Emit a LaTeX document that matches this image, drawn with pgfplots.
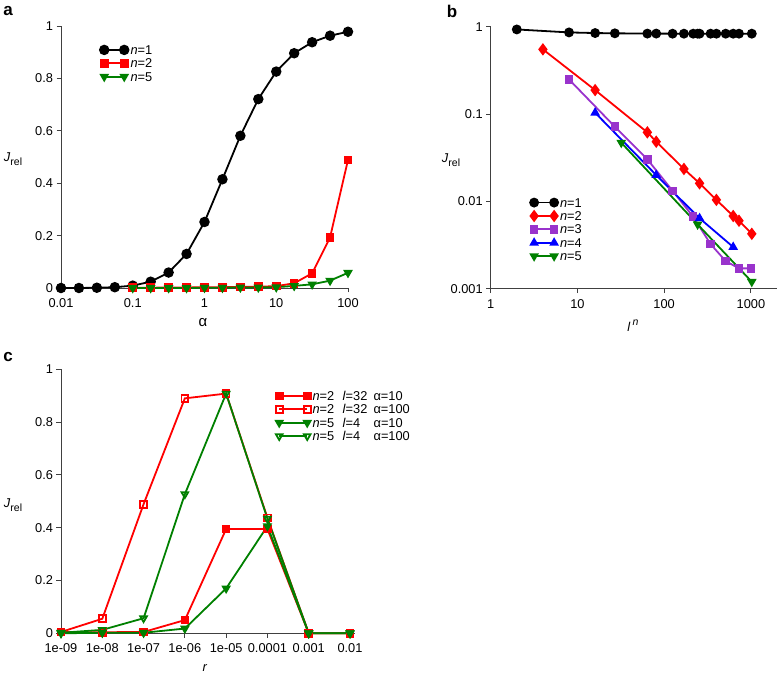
\documentclass[border=0pt]{standalone}
\usepackage{fontspec}
\setmainfont{Liberation Sans}
\usepackage{pgfplots}
\pgfplotsset{compat=1.18}

\definecolor{cgreen}{RGB}{0,128,0}
\definecolor{cpurple}{RGB}{153,51,204}
\definecolor{cblue}{RGB}{0,0,255}
\definecolor{cred}{RGB}{255,0,0}

\newcommand{\fs}{\fontsize{12.8bp}{14bp}\selectfont}
\newcommand{\Jrel}{\textit{J}\raisebox{-0.55ex}{\fontsize{10.5bp}{11bp}\selectfont rel}}

\pgfplotsset{
  panel/.style={
    scale only axis, clip=false,
    axis lines=left, axis line style={-, black!75, line width=0.9bp},
    tick align=outside, xtick pos=left, ytick pos=left,
    major tick length=4.5bp, tick style={black!75, line width=0.9bp},
    minor tick style={draw=none},
    ticklabel style={font=\fs},
    xticklabel style={yshift=-2.5bp},
    /pgf/number format/assume math mode=true,
    legend cell align=left,
    legend style={draw=none, fill=none, font=\fs, inner sep=0pt,
      nodes={text height=9bp, text depth=0bp, inner ysep=2.2bp}},
    every axis plot/.append style={line width=1.8bp},
  },
  twomark/.style={legend image code/.code={\draw plot coordinates {(0bp,0bp) (#1,0bp)};}},
}

\begin{document}
\begin{tikzpicture}
\path[use as bounding box] (0bp,0bp) rectangle (779bp,675bp);

% panel a
\begin{axis}[panel, twomark=20bp,
  at={(61bp,387bp)}, anchor=south west, width=287bp, height=262bp,
  xmode=log, xmin=0.01, xmax=100, ymin=0, ymax=1,
  xtick={0.01,0.1,1,10,100}, xticklabels={0.01,0.1,1,10,100},
  ytick={0,0.2,0.4,0.6,0.8,1}, yticklabels={0,0.2,0.4,0.6,0.8,1},
  legend style={at={(0.135,0.935)}, anchor=north west},
]
\addplot[black, mark=*, mark size=4.3bp] coordinates {
 (0.01,0) (0.01778,0) (0.03162,0.001) (0.05623,0.003) (0.1,0.009) (0.1778,0.024)
 (0.3162,0.059) (0.5623,0.13) (1,0.252) (1.778,0.415) (3.162,0.581) (5.623,0.721)
 (10,0.826) (17.78,0.896) (31.62,0.938) (56.23,0.963) (100,0.978)};
\addlegendentry{\textit{n}=1}
\addplot[cred, mark=square*, mark size=3.4bp] coordinates {
 (0.1,0.001) (0.1778,0.001) (0.3162,0.002) (0.5623,0.002) (1,0.003) (1.778,0.003)
 (3.162,0.004) (5.623,0.005) (10,0.007) (17.78,0.018) (31.62,0.056) (56.23,0.193) (100,0.489)};
\addlegendentry{\textit{n}=2}
\addplot[cgreen, mark=triangle*, mark size=3.8bp, mark options={rotate=180}] coordinates {
 (0.1,0) (0.1778,0) (0.3162,0) (0.5623,0) (1,0.001) (1.778,0.001)
 (3.162,0.002) (5.623,0.002) (10,0.003) (17.78,0.008) (31.62,0.014) (56.23,0.028) (100,0.058)};
\addlegendentry{\textit{n}=5}
\end{axis}

% panel b
\begin{axis}[panel, twomark=20bp,
  at={(490.7bp,386.3bp)}, anchor=south west, width=286.3bp, height=262bp,
  xmode=log, ymode=log, xmin=1, xmax=2000, ymin=0.001, ymax=1,
  xtick={1,10,100,1000}, xticklabels={1,10,100,1000},
  ytick={0.001,0.01,0.1,1}, yticklabels={0.001,0.01,0.1,1},
  legend style={at={(0.137,0.355)}, anchor=north west},
]
\addplot[black, mark=*, mark size=4bp] coordinates {
 (2,0.93) (8,0.86) (16,0.846) (27,0.84) (64,0.834) (81,0.834) (125,0.832) (169,0.832)
 (216,0.832) (243,0.832) (256,0.832) (343,0.832) (400,0.832) (512,0.832) (625,0.832)
 (729,0.832) (1024,0.832)};
\addlegendentry{\textit{n}=1}
\addplot[cred, mark=diamond*, mark size=4.8bp] coordinates {
 (4,0.55) (16,0.188) (64,0.0617) (81,0.0482) (169,0.0235) (256,0.0161) (400,0.0104)
 (625,0.0068) (729,0.0060) (1024,0.00425)};
\addlegendentry{\textit{n}=2}
\addplot[cpurple, mark=square*, mark size=3.4bp] coordinates {
 (8,0.249) (27,0.0716) (64,0.0303) (125,0.0132) (216,0.00667) (343,0.00324)
 (512,0.00207) (729,0.00171) (1000,0.00171)};
\addlegendentry{\textit{n}=3}
\addplot[cblue, mark=triangle*, mark size=3.8bp] coordinates {
 (16,0.1035) (81,0.020) (256,0.0064) (625,0.0030)};
\addlegendentry{\textit{n}=4}
\addplot[cgreen, mark=triangle*, mark size=3.8bp, mark options={rotate=180}] coordinates {
 (32,0.047) (243,0.00545) (1024,0.0012)};
\addlegendentry{\textit{n}=5}
\end{axis}

% panel c
\begin{axis}[panel, twomark=28bp,
  at={(61bp,41.7bp)}, anchor=south west, width=294bp, height=264bp,
  xmode=log, xmin=1e-9, xmax=0.0132, ymin=0, ymax=1,
  xtick={1e-9,1e-8,1e-7,1e-6,1e-5,1e-4,1e-3,1e-2},
  xticklabels={1e-09,1e-08,1e-07,1e-06,1e-05,0.0001,0.001,0.01},
  ytick={0,0.2,0.4,0.6,0.8,1}, yticklabels={0,0.2,0.4,0.6,0.8,1},
  legend style={at={(0.73,0.925)}, anchor=north west},
]
\addplot[cred, mark=square*, mark size=3.4bp] coordinates {
 (1e-9,0.005) (1e-8,0.004) (1e-7,0.005) (1e-6,0.05) (1e-5,0.395) (1e-4,0.395) (1e-3,0) (1e-2,0)};
\addlegendentry{\makebox[30bp][l]{\textit{n}=2}\makebox[31bp][l]{\textit{l}=32}α=10}
\addplot[cred, mark=square, mark size=3.4bp, mark options={fill=white}] coordinates {
 (1e-9,0.005) (1e-8,0.055) (1e-7,0.489) (1e-6,0.89) (1e-5,0.908) (1e-4,0.437) (1e-3,0) (1e-2,0)};
\addlegendentry{\makebox[30bp][l]{\textit{n}=2}\makebox[31bp][l]{\textit{l}=32}α=100}
\addplot[cgreen, mark=triangle*, mark size=3.8bp, mark options={rotate=180}] coordinates {
 (1e-9,0) (1e-8,0.002) (1e-7,0.002) (1e-6,0.018) (1e-5,0.17) (1e-4,0.406) (1e-3,0) (1e-2,0)};
\addlegendentry{\makebox[30bp][l]{\textit{n}=5}\makebox[31bp][l]{\textit{l}=4}α=10}
\addplot[cgreen, mark=triangle, mark size=3.8bp, mark options={rotate=180, fill=white}] coordinates {
 (1e-9,0.002) (1e-8,0.013) (1e-7,0.057) (1e-6,0.527) (1e-5,0.908) (1e-4,0.434) (1e-3,0) (1e-2,0)};
\addlegendentry{\makebox[30bp][l]{\textit{n}=5}\makebox[31bp][l]{\textit{l}=4}α=100}
\end{axis}

% labels
\node[font=\fontsize{17bp}{18bp}\selectfont\bfseries] at (8bp,664bp) {a};
\node[font=\fontsize{17bp}{18bp}\selectfont\bfseries] at (452bp,664bp) {b};
\node[font=\fontsize{17bp}{18bp}\selectfont\bfseries] at (8bp,318bp) {c};
\node[font=\fs] at (13bp,516bp) {\Jrel};
\node[font=\fs] at (451bp,515bp) {\Jrel};
\node[font=\fs] at (13bp,170bp) {\Jrel};
\node[font=\fontsize{15bp}{16bp}\selectfont] at (203bp,352bp) {α};
\node[font=\fs] at (633bp,349bp) {\textit{l}\,\raisebox{0.9ex}{\fontsize{10.5bp}{11bp}\selectfont\textit{n}}};
\node[font=\fs] at (205bp,7bp) {\textit{r}};
\end{tikzpicture}
\end{document}
